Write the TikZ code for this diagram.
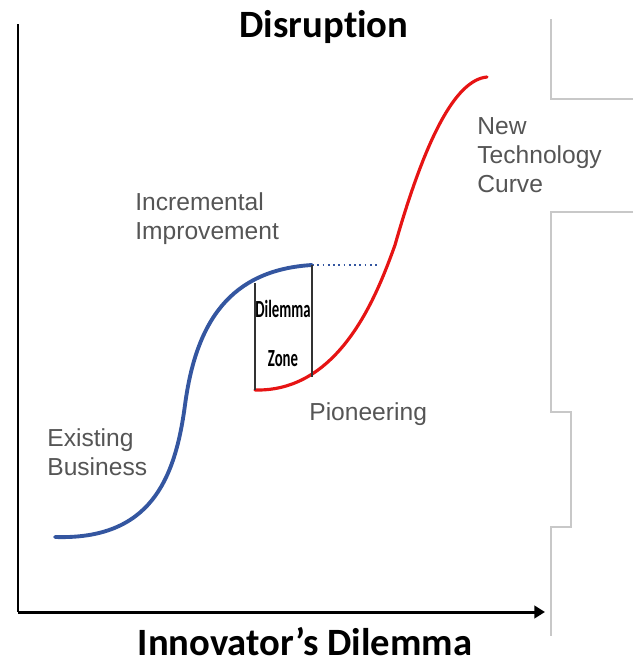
\documentclass[tikz,border=0pt]{standalone}
\usepackage{fontspec}
\setmainfont{Carlito}[Ligatures=NoCommon]
\newfontfamily\arialfont{Liberation Sans}
\usetikzlibrary{arrows.meta}
\definecolor{oldblue}{RGB}{52,86,160}
\definecolor{newred}{RGB}{230,20,20}
\definecolor{labelgray}{RGB}{85,85,85}
\definecolor{framegray}{RGB}{200,200,200}
\tikzset{
  lbl/.style={anchor=north west, inner sep=0pt, align=left, text=labelgray,
    font=\arialfont\fontsize{14}{16.5}\selectfont},
  ttl/.style={anchor=base, inner sep=0pt, font=\bfseries\fontsize{22}{26}\selectfont},
  zonetxt/.style={inner sep=0pt, xscale=0.6, font=\bfseries\fontsize{14}{16}\selectfont}
}
\begin{document}
\begin{tikzpicture}[x=0.02cm,y=-0.02cm]
                \useasboundingbox (0,0) rectangle (633,666);
                % frame on the right
                \draw[framegray,line width=0.6pt] (551,19)--(551,99)--(633,99);
                \draw[framegray,line width=0.6pt] (633,212)--(551,212)--(551,412)--(571,412)--(571,527)--(551,527)--(551,636);
                % axes
                \coordinate (top) at (18,24);
                \coordinate (origin) at (18,612);
                \coordinate (xend) at (545,612);
                \draw[line width=1.7pt] (top)--(origin);
                \draw[line width=1.7pt,-{Triangle[length=6pt,width=7pt]}] (origin)--(xend);
                \node[ttl] (disr) at (324,37) {Disruption};
                \node[ttl] (innov) at (305,655) {Innovator’s Dilemma};
                % existing business curve
                \coordinate (bstart) at (55,537);
                \coordinate (bmid) at (185,405);
                \coordinate (bend) at (312,265);
                \draw[oldblue,line width=2.2pt,line cap=round] (bstart) .. controls (150,540) and (175,480) .. (bmid)
                  .. controls (196,322) and (230,270) .. (bend);
                \coordinate (dotend) at (380,265);
                \draw[oldblue,line width=1pt,dotted] (bend)--(dotend);
                % new technology curve
                \coordinate (rstart) at (255,390);
                \coordinate (rjoin) at (312,377);
                \coordinate (rmid) at (395,245);
                \coordinate (rend) at (487,77);
                \draw[newred,line width=1.8pt,line cap=round] (rstart) .. controls (340,392) and (377,295) .. (rmid)
                  .. controls (425,140) and (455,80) .. (rend);
                % dilemma zone
                \coordinate (zl) at (255,283);
                \draw[black!80,line width=0.6pt] (zl)--(rstart);
                \draw[black!80,line width=0.6pt] (bend)--(rjoin);
                \node[zonetxt] (dil) at (283,309) {Dilemma};
                \node[zonetxt] (zone) at (283,359) {Zone};
                % labels
                \node[lbl] (incr) at (135,192) {Incremental\\Improvement};
                \node[lbl] (exist) at (47,428) {Existing\\Business};
                \node[lbl] (pion) at (309,402) {Pioneering};
                \node[lbl] (newtech) at (477,117) {New\\Technology\\Curve};
            \end{tikzpicture}
\end{document}
